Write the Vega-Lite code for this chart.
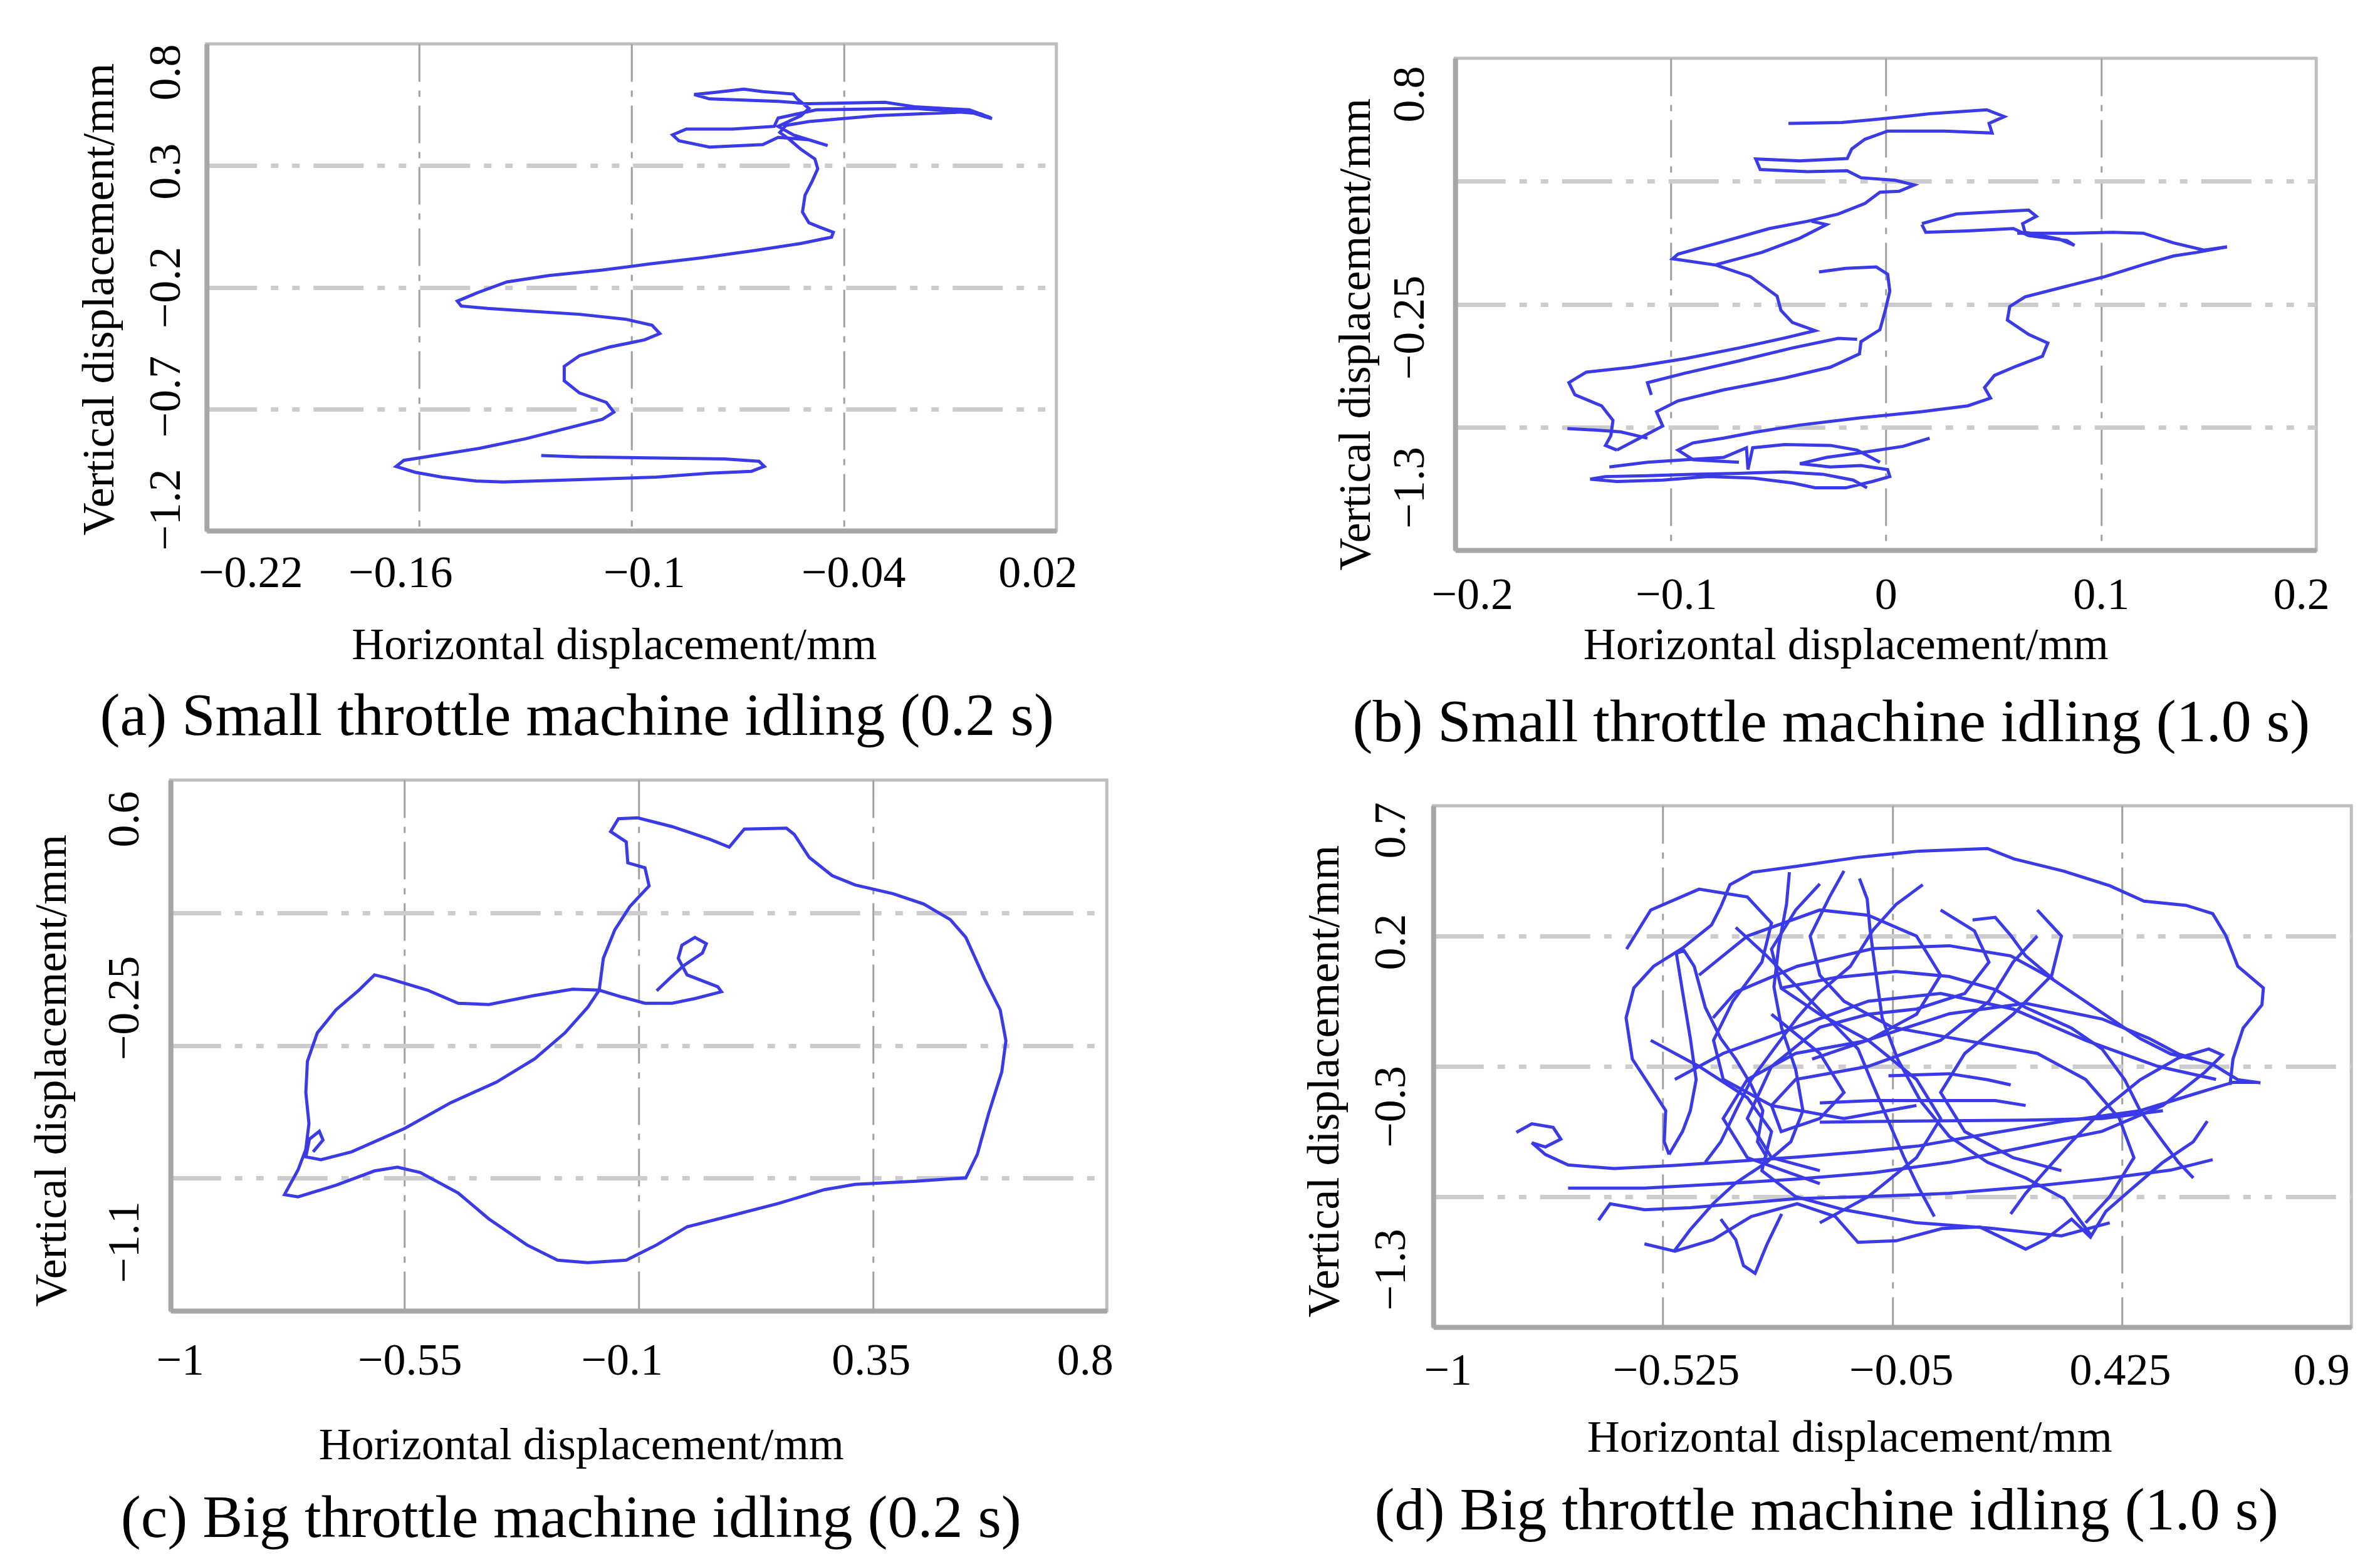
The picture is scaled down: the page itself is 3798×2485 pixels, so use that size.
{
"$schema": "https://vega.github.io/schema/vega-lite/v6.json",
"background": "white",
"padding": {"left": 43, "top": 67, "right": 5, "bottom": 0},
"spacing": 295,
"config": {
  "font": "Liberation Serif",
  "view": {"stroke": "#bebebe", "strokeWidth": 5},
  "axis": {"labelFont": "Liberation Serif", "labelFontSize": 72, "labelColor": "#000000", "titleFont": "Liberation Serif", "titleFontSize": 72, "titleFontWeight": "normal", "titleColor": "#000000", "ticks": false, "tickSize": 0, "domainColor": "#a6a6a6", "domainWidth": 8, "labelOverlap": false, "labelFlush": false, "labelLimit": 0, "titleLimit": 0, "grid": true, "format": ".4~g"},
  "axisX": {"gridColor": "#a0a0a0", "gridWidth": 3, "gridDash": [60, 14, 10, 14]},
  "axisY": {"gridColor": "#cccccc", "gridWidth": 7, "gridDash": [80, 22, 12, 22, 12, 22], "labelAngle": -90, "labelAlign": "center", "labelBaseline": "bottom"},
  "title": {"font": "Liberation Serif", "fontSize": 96, "fontWeight": "normal", "color": "#000000", "orient": "bottom", "anchor": "middle", "frame": "bounds", "baseline": "top"},
  "line": {"color": "#3a3ae6", "strokeWidth": 5}
},
"datasets": {
"a": [
{"x":-0.1255,"y":-0.891},{"x":-0.1147,"y":-0.897},{"x":-0.0953,"y":-0.901},{"x":-0.0737,"y":-0.905},{"x":-0.064,"y":-0.915},{"x":-0.0625,"y":-0.936},{"x":-0.0661,"y":-0.956},{"x":-0.078,"y":-0.964},{"x":-0.0931,"y":-0.98},{"x":-0.1147,"y":-0.99},{"x":-0.1363,"y":-1.0},{"x":-0.1438,"y":-0.996},{"x":-0.1535,"y":-0.98},{"x":-0.1611,"y":-0.96},{"x":-0.1665,"y":-0.936},{"x":-0.1643,"y":-0.911},{"x":-0.1557,"y":-0.891},{"x":-0.1427,"y":-0.861},{"x":-0.1298,"y":-0.822},{"x":-0.119,"y":-0.782},{"x":-0.1082,"y":-0.742},{"x":-0.105,"y":-0.713},{"x":-0.1071,"y":-0.673},{"x":-0.1147,"y":-0.634},{"x":-0.119,"y":-0.584},{"x":-0.119,"y":-0.525},{"x":-0.1147,"y":-0.481},{"x":-0.1061,"y":-0.445},{"x":-0.0963,"y":-0.416},{"x":-0.092,"y":-0.39},{"x":-0.0942,"y":-0.356},{"x":-0.1017,"y":-0.331},{"x":-0.1147,"y":-0.311},{"x":-0.1298,"y":-0.297},{"x":-0.1406,"y":-0.287},{"x":-0.1481,"y":-0.277},{"x":-0.1492,"y":-0.257},{"x":-0.1438,"y":-0.224},{"x":-0.1352,"y":-0.178},{"x":-0.1233,"y":-0.152},{"x":-0.1082,"y":-0.129},{"x":-0.0953,"y":-0.105},{"x":-0.0802,"y":-0.079},{"x":-0.0651,"y":-0.049},{"x":-0.0521,"y":-0.02},{"x":-0.0435,"y":0.006},{"x":-0.043,"y":0.026},{"x":-0.0467,"y":0.046},{"x":-0.0499,"y":0.065},{"x":-0.0517,"y":0.109},{"x":-0.051,"y":0.178},{"x":-0.0489,"y":0.238},{"x":-0.0474,"y":0.287},{"x":-0.0482,"y":0.327},{"x":-0.0521,"y":0.366},{"x":-0.0553,"y":0.406},{"x":-0.0581,"y":0.436},{"x":-0.0564,"y":0.465},{"x":-0.0499,"y":0.481},{"x":-0.0305,"y":0.505},{"x":-0.0046,"y":0.521},{"x":-0.0003,"y":0.501},{"x":0.0018,"y":0.493},{"x":-0.0014,"y":0.513},{"x":-0.0197,"y":0.535},{"x":-0.0478,"y":0.529},{"x":-0.0586,"y":0.495},{"x":-0.0597,"y":0.461},{"x":-0.0715,"y":0.45},{"x":-0.0845,"y":0.45},{"x":-0.0884,"y":0.426},{"x":-0.0866,"y":0.402},{"x":-0.078,"y":0.376},{"x":-0.0629,"y":0.386},{"x":-0.0586,"y":0.416},{"x":-0.0499,"y":0.406},{"x":-0.0446,"y":0.382},{"x":-0.0543,"y":0.426},{"x":-0.0586,"y":0.461},{"x":-0.0521,"y":0.505},{"x":-0.0499,"y":0.535},{"x":-0.0532,"y":0.574},{"x":-0.0543,"y":0.594},{"x":-0.0629,"y":0.604},{"x":-0.0683,"y":0.614},{"x":-0.0769,"y":0.6},{"x":-0.0823,"y":0.592},{"x":-0.078,"y":0.574},{"x":-0.0586,"y":0.564},{"x":-0.0499,"y":0.554},{"x":-0.0284,"y":0.56},{"x":-0.0197,"y":0.541},{"x":-0.0046,"y":0.529},{"x":0.0014,"y":0.497}
],
"b": [
{"s":"b1","x":-0.0452,"y":0.522},{"s":"b1","x":-0.0204,"y":0.526},{"s":"b1","x":-0.0044,"y":0.539},{"s":"b1","x":0.0204,"y":0.563},{"s":"b1","x":0.0469,"y":0.58},{"s":"b1","x":0.0551,"y":0.551},{"s":"b1","x":0.048,"y":0.522},{"s":"b1","x":0.0494,"y":0.481},{"s":"b1","x":0.0275,"y":0.489},{"s":"b1","x":0.0009,"y":0.489},{"s":"b1","x":-0.0097,"y":0.454},{"s":"b1","x":-0.0158,"y":0.413},{"s":"b1","x":-0.0179,"y":0.372},{"s":"b1","x":-0.0399,"y":0.362},{"s":"b1","x":-0.0604,"y":0.37},{"s":"b1","x":-0.0583,"y":0.325},{"s":"b1","x":-0.0363,"y":0.316},{"s":"b1","x":-0.0179,"y":0.32},{"s":"b1","x":-0.0115,"y":0.29},{"s":"b1","x":0.0044,"y":0.279},{"s":"b1","x":0.0133,"y":0.259},{"s":"b1","x":0.0062,"y":0.232},{"s":"b1","x":-0.0027,"y":0.228},{"s":"b1","x":-0.0097,"y":0.18},{"s":"b1","x":-0.0221,"y":0.135},{"s":"b1","x":-0.0363,"y":0.104},{"s":"b1","x":-0.054,"y":0.073},{"s":"b1","x":-0.0753,"y":0.018},{"s":"b1","x":-0.0965,"y":-0.036},{"s":"b1","x":-0.099,"y":-0.056},{"s":"b1","x":-0.0788,"y":-0.083},{"s":"b1","x":-0.0629,"y":-0.132},{"s":"b1","x":-0.0505,"y":-0.215},{"s":"b1","x":-0.0487,"y":-0.276},{"s":"b1","x":-0.0434,"y":-0.328},{"s":"b1","x":-0.0328,"y":-0.363},{"s":"b1","x":-0.0469,"y":-0.394},{"s":"b1","x":-0.0682,"y":-0.437},{"s":"b1","x":-0.093,"y":-0.482},{"s":"b1","x":-0.1178,"y":-0.519},{"s":"b1","x":-0.1391,"y":-0.54},{"s":"b1","x":-0.1472,"y":-0.585},{"s":"b1","x":-0.1444,"y":-0.637},{"s":"b1","x":-0.132,"y":-0.684},{"s":"b1","x":-0.1267,"y":-0.746},{"s":"b1","x":-0.1277,"y":-0.811},{"s":"b1","x":-0.1302,"y":-0.853},{"s":"b1","x":-0.1249,"y":-0.873},
{"s":"b2","x":-0.1249,"y":-0.873},{"s":"b2","x":-0.1143,"y":-0.822},{"s":"b2","x":-0.1036,"y":-0.77},{"s":"b2","x":-0.1065,"y":-0.709},{"s":"b2","x":-0.0965,"y":-0.663},{"s":"b2","x":-0.0753,"y":-0.616},{"s":"b2","x":-0.0469,"y":-0.565},{"s":"b2","x":-0.0257,"y":-0.519},{"s":"b2","x":-0.0122,"y":-0.462},{"s":"b2","x":-0.0115,"y":-0.41},{"s":"b2","x":-0.0027,"y":-0.359},{"s":"b2","x":-0.0002,"y":-0.276},{"s":"b2","x":0.0019,"y":-0.194},{"s":"b2","x":0.0009,"y":-0.122},{"s":"b2","x":-0.0044,"y":-0.091},{"s":"b2","x":-0.0186,"y":-0.097},{"s":"b2","x":-0.031,"y":-0.112},
{"s":"b3","x":-0.1089,"y":-0.637},{"s":"b3","x":-0.1107,"y":-0.585},{"s":"b3","x":-0.093,"y":-0.544},{"s":"b3","x":-0.0682,"y":-0.492},{"s":"b3","x":-0.0434,"y":-0.437},{"s":"b3","x":-0.0221,"y":-0.396},{"s":"b3","x":-0.0133,"y":-0.4},
{"s":"b9","x":-0.1479,"y":-0.781},{"s":"b9","x":-0.1355,"y":-0.787},{"s":"b9","x":-0.1231,"y":-0.795},{"s":"b9","x":-0.1107,"y":-0.822},
{"s":"b4","x":-0.0788,"y":-0.081},{"s":"b4","x":-0.0576,"y":-0.029},{"s":"b4","x":-0.0399,"y":0.032},{"s":"b4","x":-0.0275,"y":0.09},{"s":"b4","x":-0.0345,"y":0.104},
{"s":"b5","x":0.0168,"y":0.09},{"s":"b5","x":0.0186,"y":0.057},{"s":"b5","x":0.0381,"y":0.063},{"s":"b5","x":0.0593,"y":0.073},{"s":"b5","x":0.0664,"y":0.043},{"s":"b5","x":0.0841,"y":0.022},{"s":"b5","x":0.0877,"y":0.001},{"s":"b5","x":0.0806,"y":0.028},{"s":"b5","x":0.0647,"y":0.057},{"s":"b5","x":0.0636,"y":0.094},{"s":"b5","x":0.07,"y":0.125},{"s":"b5","x":0.0664,"y":0.152},{"s":"b5","x":0.0487,"y":0.143},{"s":"b5","x":0.0328,"y":0.135},{"s":"b5","x":0.0168,"y":0.094},
{"s":"b10","x":0.0611,"y":0.053},{"s":"b10","x":0.0877,"y":0.053},{"s":"b10","x":0.1054,"y":0.057},{"s":"b10","x":0.1196,"y":0.053},{"s":"b10","x":0.1337,"y":0.012},{"s":"b10","x":0.1479,"y":-0.019},{"s":"b10","x":0.1585,"y":-0.005},
{"s":"b6","x":0.1585,"y":-0.005},{"s":"b6","x":0.1444,"y":-0.029},{"s":"b6","x":0.1337,"y":-0.044},{"s":"b6","x":0.1196,"y":-0.081},{"s":"b6","x":0.1019,"y":-0.132},{"s":"b6","x":0.0841,"y":-0.173},{"s":"b6","x":0.0647,"y":-0.219},{"s":"b6","x":0.0576,"y":-0.26},{"s":"b6","x":0.0565,"y":-0.318},{"s":"b6","x":0.0664,"y":-0.379},{"s":"b6","x":0.0753,"y":-0.416},{"s":"b6","x":0.0728,"y":-0.472},{"s":"b6","x":0.0611,"y":-0.513},{"s":"b6","x":0.0505,"y":-0.554},{"s":"b6","x":0.0459,"y":-0.606},{"s":"b6","x":0.0487,"y":-0.651},{"s":"b6","x":0.0381,"y":-0.684},{"s":"b6","x":0.0168,"y":-0.709},{"s":"b6","x":-0.0115,"y":-0.735},{"s":"b6","x":-0.0399,"y":-0.766},{"s":"b6","x":-0.0611,"y":-0.797},{"s":"b6","x":-0.0753,"y":-0.822},{"s":"b6","x":-0.0895,"y":-0.842},{"s":"b6","x":-0.0965,"y":-0.873},{"s":"b6","x":-0.0895,"y":-0.914},{"s":"b6","x":-0.0682,"y":-0.925},
{"s":"b7","x":0.0204,"y":-0.822},{"s":"b7","x":0.008,"y":-0.857},{"s":"b7","x":-0.0115,"y":-0.884},{"s":"b7","x":-0.0275,"y":-0.904},{"s":"b7","x":-0.0399,"y":-0.931},{"s":"b7","x":-0.0257,"y":-0.945},{"s":"b7","x":-0.0115,"y":-0.939},{"s":"b7","x":0.0009,"y":-0.956},{"s":"b7","x":0.0019,"y":-0.986},{"s":"b7","x":-0.0062,"y":-1.007},{"s":"b7","x":-0.0186,"y":-1.034},{"s":"b7","x":-0.0328,"y":-1.034},{"s":"b7","x":-0.0434,"y":-1.013},{"s":"b7","x":-0.0611,"y":-0.993},{"s":"b7","x":-0.0824,"y":-0.986},{"s":"b7","x":-0.1036,"y":-1.001},{"s":"b7","x":-0.1249,"y":-1.007},{"s":"b7","x":-0.1373,"y":-0.997},{"s":"b7","x":-0.1302,"y":-0.986},{"s":"b7","x":-0.1107,"y":-0.982},{"s":"b7","x":-0.0895,"y":-0.976},{"s":"b7","x":-0.0682,"y":-0.972},{"s":"b7","x":-0.0469,"y":-0.966},{"s":"b7","x":-0.0292,"y":-0.976},{"s":"b7","x":-0.0151,"y":-1.001},{"s":"b7","x":-0.0087,"y":-1.034},
{"s":"b8","x":-0.1284,"y":-0.945},{"s":"b8","x":-0.1107,"y":-0.925},{"s":"b8","x":-0.093,"y":-0.914},{"s":"b8","x":-0.0753,"y":-0.904},{"s":"b8","x":-0.0647,"y":-0.863},{"s":"b8","x":-0.064,"y":-0.956},{"s":"b8","x":-0.0618,"y":-0.863},{"s":"b8","x":-0.0469,"y":-0.849},{"s":"b8","x":-0.0257,"y":-0.853},{"s":"b8","x":-0.0133,"y":-0.873},{"s":"b8","x":-0.0027,"y":-0.925}
],
"c": [
{"x":-0.0655,"y":-0.075},{"x":-0.039,"y":-0.033},{"x":-0.014,"y":0.005},{"x":0.0225,"y":0.046},{"x":0.03,"y":0.076},{"x":0.008,"y":0.096},{"x":-0.017,"y":0.071},{"x":-0.024,"y":0.029},{"x":-0.007,"y":-0.024},{"x":0.052,"y":-0.062},{"x":0.059,"y":-0.078},{"x":0.008,"y":-0.1},{"x":-0.036,"y":-0.115},{"x":-0.088,"y":-0.115},{"x":-0.132,"y":-0.095},{"x":-0.176,"y":-0.073},{"x":-0.227,"y":-0.07},{"x":-0.3,"y":-0.09},{"x":-0.388,"y":-0.119},{"x":-0.447,"y":-0.115},{"x":-0.506,"y":-0.073},{"x":-0.586,"y":-0.033},{"x":-0.608,"y":-0.024},{"x":-0.638,"y":-0.073},{"x":-0.682,"y":-0.136},{"x":-0.718,"y":-0.21},{"x":-0.737,"y":-0.301},{"x":-0.74,"y":-0.401},{"x":-0.734,"y":-0.5},{"x":-0.74,"y":-0.583},{"x":-0.755,"y":-0.649},{"x":-0.781,"y":-0.728},{"x":-0.755,"y":-0.735},{"x":-0.682,"y":-0.698},{"x":-0.608,"y":-0.652},{"x":-0.564,"y":-0.64},{"x":-0.52,"y":-0.657},{"x":-0.447,"y":-0.723},{"x":-0.388,"y":-0.806},{"x":-0.315,"y":-0.889},{"x":-0.256,"y":-0.938},{"x":-0.198,"y":-0.946},{"x":-0.124,"y":-0.938},{"x":-0.0655,"y":-0.889},{"x":-0.007,"y":-0.831},{"x":0.081,"y":-0.794},{"x":0.169,"y":-0.756},{"x":0.257,"y":-0.712},{"x":0.316,"y":-0.695},{"x":0.433,"y":-0.685},{"x":0.529,"y":-0.674},{"x":0.551,"y":-0.599},{"x":0.573,"y":-0.467},{"x":0.598,"y":-0.335},{"x":0.606,"y":-0.235},{"x":0.595,"y":-0.136},{"x":0.565,"y":-0.037},{"x":0.529,"y":0.096},{"x":0.499,"y":0.153},{"x":0.448,"y":0.203},{"x":0.389,"y":0.236},{"x":0.316,"y":0.264},{"x":0.272,"y":0.294},{"x":0.228,"y":0.352},{"x":0.199,"y":0.426},{"x":0.184,"y":0.446},{"x":0.103,"y":0.443},{"x":0.074,"y":0.385},{"x":0.037,"y":0.41},{"x":-0.036,"y":0.451},{"x":-0.102,"y":0.479},{"x":-0.139,"y":0.476},{"x":-0.154,"y":0.435},{"x":-0.124,"y":0.402},{"x":-0.121,"y":0.335},{"x":-0.088,"y":0.319},{"x":-0.08,"y":0.261},{"x":-0.117,"y":0.195},{"x":-0.146,"y":0.12},{"x":-0.168,"y":0.029},{"x":-0.176,"y":-0.073},{"x":-0.198,"y":-0.128},{"x":-0.242,"y":-0.21},{"x":-0.3,"y":-0.293},{"x":-0.374,"y":-0.368},{"x":-0.462,"y":-0.434},{"x":-0.55,"y":-0.516},{"x":-0.652,"y":-0.591},{"x":-0.711,"y":-0.616},{"x":-0.74,"y":-0.607},{"x":-0.733,"y":-0.55},{"x":-0.714,"y":-0.525},{"x":-0.707,"y":-0.553},{"x":-0.726,"y":-0.591}
],
"d": [
{"s":"d1","x":-0.405,"y":0.312},{"s":"d1","x":-0.386,"y":0.397},{"s":"d1","x":-0.339,"y":0.445},{"s":"d1","x":-0.247,"y":0.468},{"s":"d1","x":-0.121,"y":0.502},{"s":"d1","x":0.005,"y":0.526},{"s":"d1","x":0.147,"y":0.536},{"s":"d1","x":0.202,"y":0.496},{"s":"d1","x":0.305,"y":0.449},{"s":"d1","x":0.4,"y":0.393},{"s":"d1","x":0.471,"y":0.334},{"s":"d1","x":0.558,"y":0.318},{"s":"d1","x":0.613,"y":0.286},{"s":"d1","x":0.64,"y":0.203},{"s":"d1","x":0.665,"y":0.084},{"s":"d1","x":0.718,"y":0.001},{"s":"d1","x":0.715,"y":-0.064},{"s":"d1","x":0.676,"y":-0.153},{"s":"d1","x":0.655,"y":-0.272},{"s":"d1","x":0.649,"y":-0.371},
{"s":"d2","x":-0.405,"y":0.312},{"s":"d2","x":-0.424,"y":0.243},{"s":"d2","x":-0.484,"y":0.154},{"s":"d2","x":-0.544,"y":0.084},{"s":"d2","x":-0.585,"y":0.001},{"s":"d2","x":-0.601,"y":-0.114},{"s":"d2","x":-0.588,"y":-0.272},{"s":"d2","x":-0.553,"y":-0.371},{"s":"d2","x":-0.519,"y":-0.47},{"s":"d2","x":-0.522,"y":-0.589},{"s":"d2","x":-0.512,"y":-0.638},
{"s":"d3","x":-0.512,"y":-0.638},{"s":"d3","x":-0.484,"y":-0.549},{"s":"d3","x":-0.468,"y":-0.47},{"s":"d3","x":-0.456,"y":-0.351},{"s":"d3","x":-0.468,"y":-0.193},{"s":"d3","x":-0.484,"y":-0.015},{"s":"d3","x":-0.497,"y":0.134},{"s":"d3","x":-0.481,"y":0.144},{"s":"d3","x":-0.46,"y":0.084},{"s":"d3","x":-0.437,"y":-0.074},{"s":"d3","x":-0.405,"y":-0.193},{"s":"d3","x":-0.374,"y":-0.272},{"s":"d3","x":-0.342,"y":-0.371},{"s":"d3","x":-0.318,"y":-0.47},{"s":"d3","x":-0.329,"y":-0.589},{"s":"d3","x":-0.31,"y":-0.648},
{"s":"d4","x":-0.828,"y":-0.553},{"s":"d4","x":-0.796,"y":-0.52},{"s":"d4","x":-0.752,"y":-0.534},{"s":"d4","x":-0.736,"y":-0.579},{"s":"d4","x":-0.768,"y":-0.609},{"s":"d4","x":-0.796,"y":-0.593},{"s":"d4","x":-0.768,"y":-0.638},{"s":"d4","x":-0.721,"y":-0.678},{"s":"d4","x":-0.626,"y":-0.692},{"s":"d4","x":-0.5,"y":-0.68},{"s":"d4","x":-0.374,"y":-0.664},{"s":"d4","x":-0.247,"y":-0.648},{"s":"d4","x":-0.121,"y":-0.629},{"s":"d4","x":0.005,"y":-0.605},{"s":"d4","x":0.147,"y":-0.559},{"s":"d4","x":0.305,"y":-0.51},{"s":"d4","x":0.463,"y":-0.47},{"s":"d4","x":0.573,"y":-0.407},{"s":"d4","x":0.655,"y":-0.361},{"s":"d4","x":0.707,"y":-0.361},
{"s":"d5","x":-0.721,"y":-0.767},{"s":"d5","x":-0.563,"y":-0.767},{"s":"d5","x":-0.405,"y":-0.751},{"s":"d5","x":-0.247,"y":-0.732},{"s":"d5","x":-0.09,"y":-0.708},{"s":"d5","x":0.068,"y":-0.668},{"s":"d5","x":0.226,"y":-0.609},{"s":"d5","x":0.384,"y":-0.549},{"s":"d5","x":0.51,"y":-0.45},{"s":"d5","x":0.597,"y":-0.322},{"s":"d5","x":0.633,"y":-0.256},{"s":"d5","x":0.605,"y":-0.233},{"s":"d5","x":0.542,"y":-0.268},{"s":"d5","x":0.463,"y":-0.351},{"s":"d5","x":0.384,"y":-0.47},{"s":"d5","x":0.321,"y":-0.589},{"s":"d5","x":0.273,"y":-0.688},{"s":"d5","x":0.226,"y":-0.787},{"s":"d5","x":0.195,"y":-0.866},
{"s":"d6","x":-0.658,"y":-0.89},{"s":"d6","x":-0.634,"y":-0.827},{"s":"d6","x":-0.563,"y":-0.85},{"s":"d6","x":-0.468,"y":-0.842},{"s":"d6","x":-0.374,"y":-0.827},{"s":"d6","x":-0.247,"y":-0.807},{"s":"d6","x":-0.09,"y":-0.799},{"s":"d6","x":0.068,"y":-0.787},{"s":"d6","x":0.226,"y":-0.763},{"s":"d6","x":0.384,"y":-0.732},{"s":"d6","x":0.526,"y":-0.698},{"s":"d6","x":0.613,"y":-0.658},
{"s":"d7","x":-0.563,"y":-0.981},{"s":"d7","x":-0.5,"y":-1.009},{"s":"d7","x":-0.421,"y":-0.965},{"s":"d7","x":-0.342,"y":-0.876},{"s":"d7","x":-0.247,"y":-0.827},{"s":"d7","x":-0.168,"y":-0.876},{"s":"d7","x":-0.121,"y":-0.975},{"s":"d7","x":-0.042,"y":-0.969},{"s":"d7","x":0.053,"y":-0.922},{"s":"d7","x":0.131,"y":-0.916},{"s":"d7","x":0.226,"y":-1.001},{"s":"d7","x":0.266,"y":-0.965},{"s":"d7","x":0.321,"y":-0.886},{"s":"d7","x":0.36,"y":-0.955},{"s":"d7","x":0.392,"y":-0.856},{"s":"d7","x":0.447,"y":-0.767},{"s":"d7","x":0.51,"y":-0.668},{"s":"d7","x":0.573,"y":-0.589},{"s":"d7","x":0.602,"y":-0.51},
{"s":"d8","x":-0.263,"y":0.445},{"s":"d8","x":-0.269,"y":0.322},{"s":"d8","x":-0.285,"y":0.163},{"s":"d8","x":-0.295,"y":0.005},{"s":"d8","x":-0.279,"y":-0.153},{"s":"d8","x":-0.25,"y":-0.312},{"s":"d8","x":-0.235,"y":-0.47},{"s":"d8","x":-0.26,"y":-0.589},{"s":"d8","x":-0.31,"y":-0.668},{"s":"d8","x":-0.374,"y":-0.747},{"s":"d8","x":-0.421,"y":-0.827},{"s":"d8","x":-0.468,"y":-0.926},{"s":"d8","x":-0.5,"y":-1.005},
{"s":"d19","x":-0.405,"y":-0.886},{"s":"d19","x":-0.374,"y":-0.965},{"s":"d19","x":-0.358,"y":-1.064},{"s":"d19","x":-0.334,"y":-1.094},{"s":"d19","x":-0.31,"y":-0.985},{"s":"d19","x":-0.279,"y":-0.866},
{"s":"d9","x":-0.118,"y":0.421},{"s":"d9","x":-0.102,"y":0.342},{"s":"d9","x":-0.096,"y":0.223},{"s":"d9","x":-0.086,"y":0.084},{"s":"d9","x":-0.071,"y":-0.114},{"s":"d9","x":-0.039,"y":-0.272},{"s":"d9","x":0.008,"y":-0.431},{"s":"d9","x":0.068,"y":-0.569},{"s":"d9","x":0.147,"y":-0.668},{"s":"d9","x":0.226,"y":-0.728},{"s":"d9","x":0.305,"y":-0.807},{"s":"d9","x":0.36,"y":-0.945},
{"s":"d10","x":0.013,"y":0.397},{"s":"d10","x":-0.042,"y":0.322},{"s":"d10","x":-0.09,"y":0.223},{"s":"d10","x":-0.137,"y":0.084},{"s":"d10","x":-0.2,"y":-0.015},{"s":"d10","x":-0.247,"y":-0.114},{"s":"d10","x":-0.295,"y":-0.233},{"s":"d10","x":-0.342,"y":-0.351},{"s":"d10","x":-0.374,"y":-0.47},{"s":"d10","x":-0.405,"y":-0.589},{"s":"d10","x":-0.437,"y":-0.668},
{"s":"d11","x":-0.421,"y":-0.114},{"s":"d11","x":-0.374,"y":-0.015},{"s":"d11","x":-0.247,"y":0.084},{"s":"d11","x":-0.09,"y":0.152},{"s":"d11","x":0.068,"y":0.163},{"s":"d11","x":0.195,"y":0.124},{"s":"d11","x":0.273,"y":0.045},{"s":"d11","x":0.337,"y":-0.035},{"s":"d11","x":0.4,"y":-0.114},{"s":"d11","x":0.463,"y":-0.193},{"s":"d11","x":0.526,"y":-0.252},{"s":"d11","x":0.573,"y":-0.272},
{"s":"d12","x":-0.279,"y":0.001},{"s":"d12","x":-0.168,"y":0.041},{"s":"d12","x":-0.042,"y":0.064},{"s":"d12","x":0.068,"y":0.045},{"s":"d12","x":0.163,"y":-0.005},{"s":"d12","x":0.226,"y":-0.074},{"s":"d12","x":0.321,"y":-0.153},{"s":"d12","x":0.384,"y":-0.233},{"s":"d12","x":0.431,"y":-0.351},{"s":"d12","x":0.463,"y":-0.47},{"s":"d12","x":0.51,"y":-0.589},{"s":"d12","x":0.542,"y":-0.668},{"s":"d12","x":0.573,"y":-0.728},
{"s":"d13","x":0.116,"y":0.262},{"s":"d13","x":0.163,"y":0.272},{"s":"d13","x":0.195,"y":0.203},{"s":"d13","x":0.226,"y":0.124},{"s":"d13","x":0.283,"y":0.035},
{"s":"d14","x":-0.216,"y":-0.272},{"s":"d14","x":-0.09,"y":-0.193},{"s":"d14","x":0.068,"y":-0.098},{"s":"d14","x":0.226,"y":-0.058},{"s":"d14","x":0.384,"y":-0.118},{"s":"d14","x":0.482,"y":-0.193},{"s":"d14","x":0.542,"y":-0.252},{"s":"d14","x":0.613,"y":-0.292},{"s":"d14","x":0.665,"y":-0.351},{"s":"d14","x":0.712,"y":-0.363},
{"s":"d15","x":-0.2,"y":-0.44},{"s":"d15","x":-0.09,"y":-0.431},{"s":"d15","x":0.068,"y":-0.431},{"s":"d15","x":0.163,"y":-0.431},{"s":"d15","x":0.226,"y":-0.45},
{"s":"d16","x":-0.2,"y":-0.514},{"s":"d16","x":-0.011,"y":-0.51},{"s":"d16","x":0.226,"y":-0.506},{"s":"d16","x":0.384,"y":-0.5},{"s":"d16","x":0.51,"y":-0.47},
{"s":"d17","x":-0.058,"y":-0.336},{"s":"d17","x":0.068,"y":-0.328},{"s":"d17","x":0.147,"y":-0.351},{"s":"d17","x":0.195,"y":-0.371},
{"s":"d18","x":-0.374,"y":0.233},{"s":"d18","x":-0.31,"y":0.124},{"s":"d18","x":-0.247,"y":0.005},{"s":"d18","x":-0.184,"y":-0.114},{"s":"d18","x":-0.121,"y":-0.233},{"s":"d18","x":-0.09,"y":-0.371},{"s":"d18","x":-0.058,"y":-0.51},{"s":"d18","x":-0.026,"y":-0.648},{"s":"d18","x":0.005,"y":-0.767},{"s":"d18","x":0.037,"y":-0.876},
{"s":"d20","x":-0.45,"y":0.05},{"s":"d20","x":-0.35,"y":0.2},{"s":"d20","x":-0.2,"y":0.3},{"s":"d20","x":-0.1,"y":0.28},{"s":"d20","x":0.0,"y":0.2},{"s":"d20","x":0.05,"y":0.05},{"s":"d20","x":0.0,"y":-0.1},{"s":"d20","x":-0.1,"y":-0.2},{"s":"d20","x":-0.25,"y":-0.25},{"s":"d20","x":-0.35,"y":-0.35},{"s":"d20","x":-0.4,"y":-0.5},{"s":"d20","x":-0.35,"y":-0.65},{"s":"d20","x":-0.2,"y":-0.75},
{"s":"d21","x":-0.3,"y":-0.1},{"s":"d21","x":-0.2,"y":-0.25},{"s":"d21","x":-0.15,"y":-0.4},{"s":"d21","x":-0.2,"y":-0.5},{"s":"d21","x":-0.28,"y":-0.55},{"s":"d21","x":-0.3,"y":-0.45},{"s":"d21","x":-0.25,"y":-0.35},{"s":"d21","x":-0.1,"y":-0.3},{"s":"d21","x":0.05,"y":-0.2},{"s":"d21","x":0.15,"y":-0.05},{"s":"d21","x":0.2,"y":0.1},{"s":"d21","x":0.25,"y":0.2},
{"s":"d22","x":-0.55,"y":-0.2},{"s":"d22","x":-0.45,"y":-0.3},{"s":"d22","x":-0.35,"y":-0.42},{"s":"d22","x":-0.3,"y":-0.55},{"s":"d22","x":-0.32,"y":-0.7},{"s":"d22","x":-0.25,"y":-0.8},{"s":"d22","x":-0.15,"y":-0.85},{"s":"d22","x":0.0,"y":-0.9},{"s":"d22","x":0.15,"y":-0.92},{"s":"d22","x":0.3,"y":-0.95},{"s":"d22","x":0.4,"y":-0.9},
{"s":"d23","x":-0.15,"y":0.45},{"s":"d23","x":-0.18,"y":0.35},{"s":"d23","x":-0.22,"y":0.2},{"s":"d23","x":-0.2,"y":0.05},{"s":"d23","x":-0.15,"y":-0.05},{"s":"d23","x":-0.05,"y":-0.15},{"s":"d23","x":0.1,"y":-0.2},{"s":"d23","x":0.25,"y":-0.25},{"s":"d23","x":0.35,"y":-0.35},{"s":"d23","x":0.42,"y":-0.5},{"s":"d23","x":0.45,"y":-0.65},{"s":"d23","x":0.4,"y":-0.8},{"s":"d23","x":0.35,"y":-0.9},
{"s":"d24","x":0.25,"y":0.3},{"s":"d24","x":0.3,"y":0.2},{"s":"d24","x":0.28,"y":0.05},{"s":"d24","x":0.2,"y":-0.1},{"s":"d24","x":0.1,"y":-0.25},{"s":"d24","x":0.05,"y":-0.4},{"s":"d24","x":0.1,"y":-0.55},{"s":"d24","x":0.2,"y":-0.65},{"s":"d24","x":0.3,"y":-0.7},
{"s":"d25","x":-0.6,"y":0.15},{"s":"d25","x":-0.55,"y":0.3},{"s":"d25","x":-0.45,"y":0.38},{"s":"d25","x":-0.35,"y":0.35},{"s":"d25","x":-0.3,"y":0.25},{"s":"d25","x":-0.32,"y":0.1},{"s":"d25","x":-0.38,"y":-0.05},{"s":"d25","x":-0.42,"y":-0.2},{"s":"d25","x":-0.4,"y":-0.35},{"s":"d25","x":-0.3,"y":-0.45},{"s":"d25","x":-0.15,"y":-0.5},{"s":"d25","x":0.0,"y":-0.45},
{"s":"d26","x":0.05,"y":0.3},{"s":"d26","x":0.12,"y":0.22},{"s":"d26","x":0.15,"y":0.1},{"s":"d26","x":0.1,"y":-0.02},{"s":"d26","x":0.0,"y":-0.08},{"s":"d26","x":-0.1,"y":-0.1},{"s":"d26","x":-0.2,"y":-0.15},{"s":"d26","x":-0.3,"y":-0.3},{"s":"d26","x":-0.35,"y":-0.5},{"s":"d26","x":-0.3,"y":-0.65},{"s":"d26","x":-0.2,"y":-0.7},
{"s":"d27","x":-0.5,"y":-0.35},{"s":"d27","x":-0.4,"y":-0.25},{"s":"d27","x":-0.25,"y":-0.15},{"s":"d27","x":-0.1,"y":-0.05},{"s":"d27","x":0.05,"y":-0.02},{"s":"d27","x":0.2,"y":-0.08},{"s":"d27","x":0.35,"y":-0.2},{"s":"d27","x":0.5,"y":-0.3},{"s":"d27","x":0.62,"y":-0.35},
{"s":"d28","x":-0.2,"y":0.4},{"s":"d28","x":-0.25,"y":0.3},{"s":"d28","x":-0.3,"y":0.15},{"s":"d28","x":-0.28,"y":0.0},{"s":"d28","x":-0.2,"y":-0.1},{"s":"d28","x":-0.1,"y":-0.2},{"s":"d28","x":0.0,"y":-0.35},{"s":"d28","x":0.05,"y":-0.5},{"s":"d28","x":0.0,"y":-0.65},{"s":"d28","x":-0.1,"y":-0.8},{"s":"d28","x":-0.2,"y":-0.9}
]
},
"hconcat": [
 {"vconcat": [
   {"width": 1356, "height": 777,
    "data": {"name": "a"},
    "mark": {"type": "line", "clip": true},
    "encoding": {
      "x": {"field": "x", "type": "quantitative", "scale": {"domain": [-0.22, 0.02], "nice": false, "zero": false},
        "axis": {"title": "Horizontal displacement/mm", "values": [-0.22, -0.16, -0.1, -0.04, 0.02], "labelPadding": 32, "titlePadding": 44, "titleX": 650,
          "labelOffset": {"expr": "datum.value < -0.219 ? 70 : datum.value > 0.019 ? -30 : datum.value < -0.159 ? -30 : datum.value < -0.099 ? 20 : 15"},
          "gridOpacity": {"condition": {"test": "datum.value < -0.219 || datum.value > 0.019", "value": 0}, "value": 1}}},
      "y": {"field": "y", "type": "quantitative", "scale": {"domain": [-1.2, 0.8], "nice": false, "zero": false},
        "axis": {"title": "Vertical displacement/mm", "values": [-1.2, -0.7, -0.2, 0.3, 0.8], "labelPadding": 28, "titlePadding": 33, "titleY": 407,
          "labelOffset": {"expr": "datum.value > 0.79 ? 45 : datum.value > 0.29 ? 9 : datum.value < -1.19 ? -34 : datum.value < -0.69 ? -20 : 0"},
          "gridOpacity": {"condition": {"test": "datum.value < -1.19 || datum.value > 0.79", "value": 0}, "value": 1}}},
      "order": {"value": null}
    },
    "title": {"text": "(a) Small throttle machine idling (0.2 s)", "offset": 32}
   },
   {"width": 1494, "height": 847,
    "data": {"name": "c"},
    "mark": {"type": "line", "clip": true},
    "encoding": {
      "x": {"field": "x", "type": "quantitative", "scale": {"domain": [-1, 0.8], "nice": false, "zero": false},
        "axis": {"title": "Horizontal displacement/mm", "values": [-1, -0.55, -0.1, 0.35, 0.8], "labelPadding": 44, "titlePadding": 64, "titleX": 655,
          "labelOffset": {"expr": "datum.value < -0.99 ? 15 : datum.value > 0.79 ? -35 : datum.value < -0.54 ? 8 : datum.value < -0.09 ? -27 : -3"},
          "gridOpacity": {"condition": {"test": "datum.value < -0.99 || datum.value > 0.79", "value": 0}, "value": 1}}},
      "y": {"field": "y", "type": "quantitative", "scale": {"domain": [-1.1, 0.6], "nice": false, "zero": false},
        "axis": {"title": "Vertical displacement/mm", "values": [-1.1, -0.675, -0.25, 0.175, 0.6], "labelPadding": 37, "titlePadding": 43, "titleY": 463,
          "labelExpr": "abs(datum.value - 0.175) < 0.001 || abs(datum.value + 0.675) < 0.001 ? '' : datum.label",
          "labelOffset": {"expr": "datum.value > 0.59 ? 62 : datum.value < -1.09 ? -110 : abs(datum.value + 0.25) < 0.01 ? -60 : 0"},
          "gridOpacity": {"condition": {"test": "datum.value < -1.09 || datum.value > 0.59", "value": 0}, "value": 1}}},
      "order": {"value": null}
    },
    "title": {"text": "(c) Big throttle machine idling (0.2 s)", "offset": 35}
   }
 ], "spacing": 47, "center": true},
 {"vconcat": [
   {"vconcat": [
     {"data": {"values": []}, "mark": "point", "width": 1, "height": 1, "view": {"stroke": null}},
     {"width": 1374, "height": 785,
      "data": {"name": "b"},
      "mark": {"type": "line", "clip": true},
      "encoding": {
        "x": {"field": "x", "type": "quantitative", "scale": {"domain": [-0.2, 0.2], "nice": false, "zero": false},
          "axis": {"title": "Horizontal displacement/mm", "values": [-0.2, -0.1, 0, 0.1, 0.2], "labelPadding": 36, "titlePadding": 9, "titleX": 623,
            "labelOffset": {"expr": "datum.value < -0.199 ? 27 : datum.value > 0.199 ? -24 : datum.value < -0.099 ? 9 : 0"},
            "gridOpacity": {"condition": {"test": "datum.value < -0.199 || datum.value > 0.199", "value": 0}, "value": 1}}},
        "y": {"field": "y", "type": "quantitative", "scale": {"domain": [-1.3, 0.8], "nice": false, "zero": false},
          "axis": {"title": "Vertical displacement/mm", "values": [-1.3, -0.775, -0.25, 0.275, 0.8], "labelPadding": 36, "titlePadding": 13, "titleY": 440,
            "labelExpr": "abs(datum.value - 0.275) < 0.001 || abs(datum.value + 0.775) < 0.001 ? '' : datum.label",
            "labelOffset": {"expr": "datum.value > 0.79 ? 57 : datum.value < -1.29 ? -100 : abs(datum.value + 0.25) < 0.01 ? 37 : 0"},
            "gridOpacity": {"condition": {"test": "datum.value < -1.29 || datum.value > 0.79", "value": 0}, "value": 1}}},
        "detail": {"field": "s", "type": "nominal"},
        "order": {"value": null}
      },
      "title": {"text": "(b) Small throttle machine idling (1.0 s)", "offset": 42}
     }
   ], "spacing": 19},
   {"width": 1465, "height": 832,
    "data": {"name": "d"},
    "mark": {"type": "line", "clip": true},
    "encoding": {
      "x": {"field": "x", "type": "quantitative", "scale": {"domain": [-1, 0.9], "nice": false, "zero": false},
        "axis": {"title": "Horizontal displacement/mm", "values": [-1, -0.525, -0.05, 0.425, 0.9], "labelPadding": 34, "titlePadding": 36, "titleX": 664,
          "labelOffset": {"expr": "datum.value < -0.99 ? 23 : datum.value > 0.89 ? -48 : datum.value < -0.5 ? 21 : datum.value < 0 ? 14 : -3"},
          "gridOpacity": {"condition": {"test": "datum.value < -0.99 || datum.value > 0.89", "value": 0}, "value": 1}}},
      "y": {"field": "y", "type": "quantitative", "scale": {"domain": [-1.3, 0.7], "nice": false, "zero": false},
        "axis": {"title": "Vertical displacement/mm", "values": [-1.3, -0.8, -0.3, 0.2, 0.7], "labelPadding": 31, "titlePadding": 33, "titleY": 439,
          "labelExpr": "abs(datum.value + 0.8) < 0.001 ? '' : datum.label",
          "labelOffset": {"expr": "datum.value > 0.69 ? 39 : datum.value > 0.19 ? 9 : datum.value < -1.29 ? -92 : abs(datum.value + 0.3) < 0.01 ? 64 : 0"},
          "gridOpacity": {"condition": {"test": "datum.value < -1.29 || datum.value > 0.69", "value": 0}, "value": 1}}},
      "detail": {"field": "s", "type": "nominal"},
      "order": {"value": null}
    },
    "title": {"text": "(d) Big throttle machine idling (1.0 s)", "offset": 35}
   }
 ], "spacing": 72, "center": true}
]
}
